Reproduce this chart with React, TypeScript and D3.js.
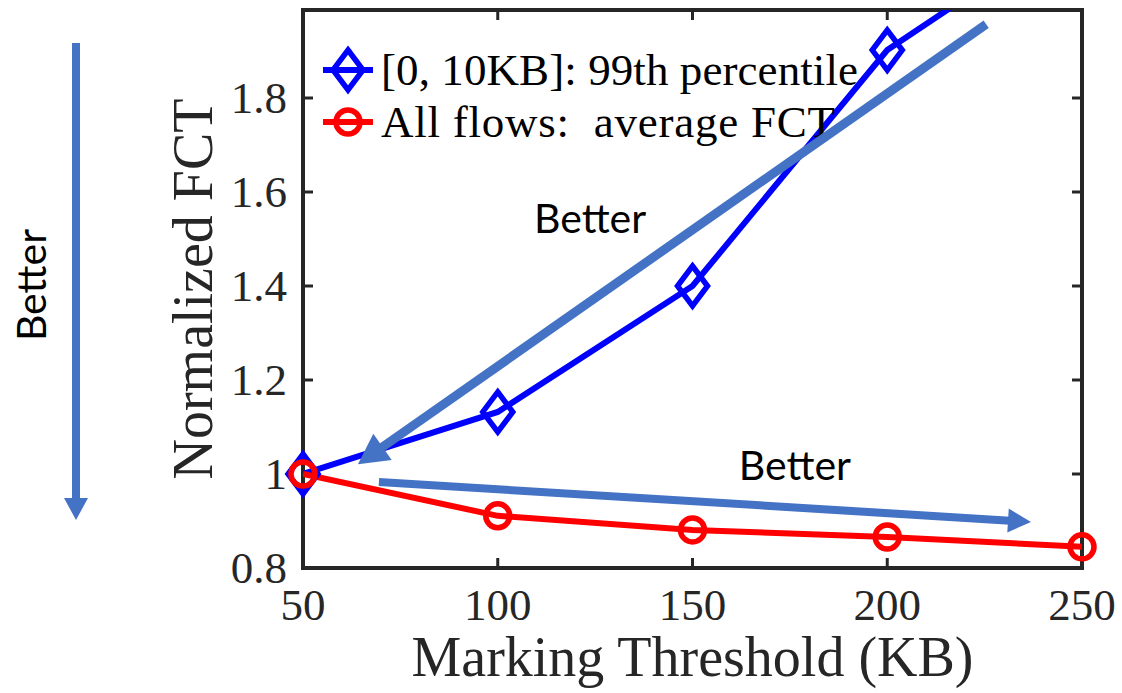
import React from "react";
import * as d3 from "d3";

const thresholds = [50, 100, 150, 200, 250];
const shortFlowP99 = [1.0, 1.132, 1.4, 1.902, 2.179];
const allFlowsAvg = [1.0, 0.911, 0.881, 0.866, 0.845];
const xTicks = [50, 100, 150, 200, 250];
const yTicks = [0.8, 1.0, 1.2, 1.4, 1.6, 1.8];
const yTickLabels = ["0.8", "1", "1.2", "1.4", "1.6", "1.8"];
const legendLabels = ["[0, 10KB]: 99th percentile", "All flows:  average FCT"];
// annotation arrows in data coordinates: [x0, y0, x1(tip), y1(tip)]
const diagArrow = [225.4, 1.957, 64.1, 1.021];
const flatArrow = [69.5, 0.983, 236.9, 0.898];
const betterLabels = [
  { x: 123.7, y: 0.8 + 335 / 470 },
  { x: 176.3, y: 0.8 + 88 / 470 },
];

const W = 1122;
const H = 693;
const L = 303, R = 1082, T = 10, B = 568;
const ARROW = "#4472C4";
const FRAME = "#262626";
const SERIF = "'Liberation Serif', 'Times New Roman', serif";
const SANS = "Lato, 'Open Sans', sans-serif";

function arrowShape(x0: number, y0: number, x1: number, y1: number, headLen: number, headHalf: number) {
  const dx = x1 - x0, dy = y1 - y0;
  const len = Math.hypot(dx, dy);
  const ux = dx / len, uy = dy / len;
  const bx = x1 - ux * headLen, by = y1 - uy * headLen;
  const px = -uy, py = ux;
  const tri = [
    [x1, y1],
    [bx + px * headHalf, by + py * headHalf],
    [bx - px * headHalf, by - py * headHalf],
  ];
  return { shaft: [x0, y0, bx + ux * 2, by + uy * 2], tri };
}

export default function App() {
  const x = d3.scaleLinear().domain([50, 250]).range([L, R]);
  const y = d3.scaleLinear().domain([0.8, 0.8 + (B - T) / 470]).range([B, T]);

  const line = d3
    .line<number>()
    .x((_, i) => x(thresholds[i]))
    .y((d) => y(d));

  const diamond = (cx: number, cy: number) =>
    `M${cx},${cy - 20} L${cx + 15},${cy} L${cx},${cy + 20} L${cx - 15},${cy} Z`;

  const a1 = arrowShape(x(diagArrow[0]), y(diagArrow[1]), x(diagArrow[2]), y(diagArrow[3]), 30, 16);
  const a2 = arrowShape(x(flatArrow[0]), y(flatArrow[1]), x(flatArrow[2]), y(flatArrow[3]), 23, 12);
  const a3 = arrowShape(76, 43, 76, 520, 22, 12);

  const inDomain = (v: number) => v >= 0.8 && v <= y.domain()[1];

  return (
    <svg
      width={W}
      height={H}
      style={{ position: "absolute", left: 0, top: 0, background: "#fff" }}
    >
      <defs>
        <clipPath id="plotClip">
          <rect x={L} y={T} width={R - L} height={B - T} />
        </clipPath>
      </defs>
      <rect x={0} y={0} width={W} height={H} fill="#fff" />

      {/* frame and ticks */}
      <rect x={L} y={T} width={R - L} height={B - T} fill="none" stroke={FRAME} strokeWidth={4} />
      {xTicks.map((t) => (
        <g key={"xt" + t}>
          <line x1={x(t)} x2={x(t)} y1={B} y2={B - 10} stroke={FRAME} strokeWidth={3} />
          <line x1={x(t)} x2={x(t)} y1={T} y2={T + 10} stroke={FRAME} strokeWidth={3} />
          <text
            x={x(t)}
            y={620}
            textAnchor="middle"
            fontFamily={SERIF}
            fontSize={45}
            fill={FRAME}
          >
            {t}
          </text>
        </g>
      ))}
      {yTicks.map((t, i) => (
        <g key={"yt" + t}>
          <line x1={L} x2={L + 10} y1={y(t)} y2={y(t)} stroke={FRAME} strokeWidth={3} />
          <line x1={R} x2={R - 10} y1={y(t)} y2={y(t)} stroke={FRAME} strokeWidth={3} />
          <text
            x={287}
            y={y(t) + 15}
            textAnchor="end"
            fontFamily={SERIF}
            fontSize={45}
            fill={FRAME}
          >
            {yTickLabels[i]}
          </text>
        </g>
      ))}

      {/* axis labels */}
      <text
        x={(L + R) / 2}
        y={676}
        textAnchor="middle"
        fontFamily={SERIF}
        fontSize={56}
        fill={FRAME}
      >
        Marking Threshold (KB)
      </text>
      <text
        transform={`translate(212, ${(T + B) / 2}) rotate(-90)`}
        textAnchor="middle"
        fontFamily={SERIF}
        fontSize={56}
        fill={FRAME}
      >
        Normalized FCT
      </text>

      {/* data lines */}
      <g clipPath="url(#plotClip)">
        <path d={line(shortFlowP99) || ""} fill="none" stroke="#0000FF" strokeWidth={6} />
        <path d={line(allFlowsAvg) || ""} fill="none" stroke="#FF0000" strokeWidth={6} />
      </g>
      {shortFlowP99.map((v, i) =>
        inDomain(v) ? (
          <path
            key={"bm" + i}
            d={diamond(x(thresholds[i]), y(v))}
            fill="none"
            stroke="#0000FF"
            strokeWidth={5.5}
          />
        ) : null
      )}
      {allFlowsAvg.map((v, i) => (
        <circle
          key={"rm" + i}
          cx={x(thresholds[i])}
          cy={y(v)}
          r={12}
          fill="none"
          stroke="#FF0000"
          strokeWidth={5.5}
        />
      ))}

      {/* legend */}
      <g>
        <line x1={323} x2={373} y1={70} y2={70} stroke="#0000FF" strokeWidth={6} />
        <path d={diamond(348, 70)} fill="none" stroke="#0000FF" strokeWidth={5.5} />
        <text
          x={381}
          y={85}
          fontFamily={SERIF}
          fontSize={45}
          fill="#000"
          textLength={477}
          lengthAdjust="spacing"
          style={{ whiteSpace: "pre" }}
        >
          {legendLabels[0]}
        </text>
        <line x1={323} x2={373} y1={122} y2={122} stroke="#FF0000" strokeWidth={6} />
        <circle cx={348} cy={122} r={12} fill="none" stroke="#FF0000" strokeWidth={5.5} />
        <text
          x={381}
          y={137}
          fontFamily={SERIF}
          fontSize={45}
          fill="#000"
          textLength={454}
          lengthAdjust="spacing"
          style={{ whiteSpace: "pre" }}
        >
          {legendLabels[1]}
        </text>
      </g>

      {/* annotations */}
      {[
        { a: a1, w: 9 },
        { a: a2, w: 8 },
        { a: a3, w: 8 },
      ].map(({ a, w }, i) => (
        <g key={"arr" + i}>
          <line
            x1={a.shaft[0]}
            y1={a.shaft[1]}
            x2={a.shaft[2]}
            y2={a.shaft[3]}
            stroke={ARROW}
            strokeWidth={w}
          />
          <polygon points={a.tri.map((p) => p.join(",")).join(" ")} fill={ARROW} />
        </g>
      ))}
      {betterLabels.map((b, i) => (
        <text
          key={"bt" + i}
          x={x(b.x)}
          y={y(b.y)}
          textAnchor="middle"
          fontFamily={SANS}
          fontSize={41}
          fill="#000"
        >
          Better
        </text>
      ))}
      <text
        transform="translate(46, 285) rotate(-90)"
        textAnchor="middle"
        fontFamily={SANS}
        fontSize={41}
        fill="#000"
      >
        Better
      </text>
    </svg>
  );
}
